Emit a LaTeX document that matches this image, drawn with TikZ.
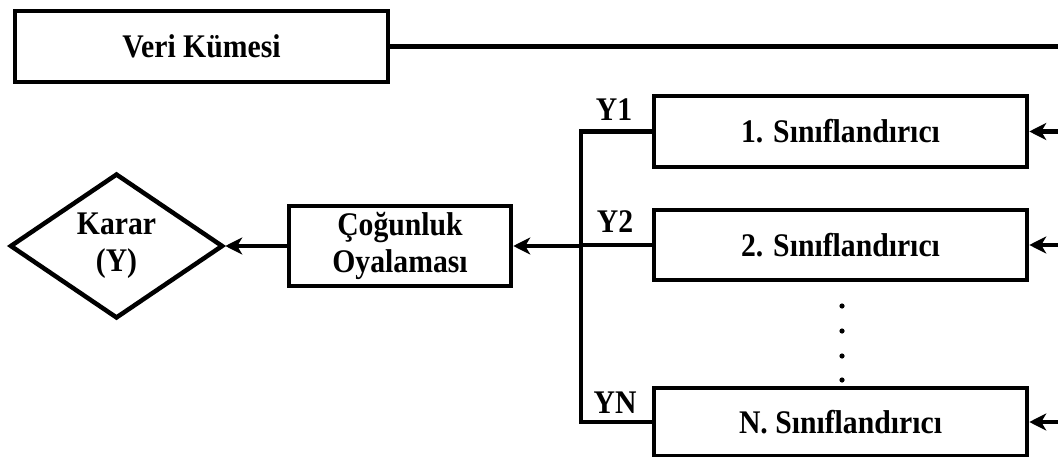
\documentclass[tikz,border=0pt]{standalone}
\usepackage{fontspec}
\setmainfont{Liberation Serif}[FakeStretch=0.9]
\usetikzlibrary{shapes.geometric,arrows.meta}
\begin{document}
\begin{tikzpicture}[x=1pt,y=-1pt,
  every node/.style={font=\fontsize{33}{37}\selectfont\bfseries},
  blok/.style={draw,line width=4.5pt,rectangle,inner sep=0pt,align=center},
  karar/.style={draw,line width=4.5pt,diamond,inner sep=0pt,align=center,
    minimum width=213pt,minimum height=143pt},
  baglanti/.style={line width=4.5pt},
  ok/.style={line width=4.5pt,-{Stealth[length=17pt,width=17pt,inset=5pt]}},
  etiket/.style={inner sep=0pt}]
\useasboundingbox (0,0) rectangle (1058,457);

% boxes
\node[blok,minimum width=373pt,minimum height=71pt] (veri) at (201.5,46.5) {Veri Kümesi};
\node[blok,minimum width=373pt,minimum height=71pt] (s1) at (840.5,131.5) {1. Sınıflandırıcı};
\node[blok,minimum width=373pt,minimum height=70pt] (s2) at (840.5,245) {2. Sınıflandırıcı};
\node[blok,minimum width=373pt,minimum height=68pt] (sn) at (840.5,422) {N. Sınıflandırıcı};
\node[blok,minimum width=222pt,minimum height=80pt] (cogunluk) at (400,246) {Çoğunluk\\Oyalaması};
\node[karar] (sonuc) at (116.5,246) {Karar\\(Y)};

% output labels
\node[etiket] (y1) at (614,110) {Y1};
\node[etiket] (y2) at (615,222) {Y2};
\node[etiket] (yn) at (615,403) {YN};

% dots between classifiers
\foreach \yy/\nm in {306/d1,331/d2,356/d3,380/d4}
  \fill (842,\yy) circle[radius=2.6pt] coordinate (\nm);

% collecting bus
\coordinate (b1) at (581,131.5);
\coordinate (b2) at (581,246);
\coordinate (bn) at (581,422);
\draw[baglanti,line cap=rect] (s1.west) -- (b1) -- (bn) -- (sn.west);
\draw[baglanti] (s2.west) -- (s2.west -| b2);
\draw[ok] (b2) -- (cogunluk.east);
\draw[ok] (cogunluk.west) -- (sonuc.east);

% data feed
\coordinate (v) at (1064,46.5);
\coordinate (r1) at (1064,131.5);
\coordinate (r2) at (1064,245);
\coordinate (rn) at (1064,422);
\draw[baglanti] (veri.east) -- (v);
\draw[ok] (r1) -- (s1.east);
\draw[ok] (r2) -- (s2.east);
\draw[ok] (rn) -- (sn.east);
\end{tikzpicture}
\end{document}
